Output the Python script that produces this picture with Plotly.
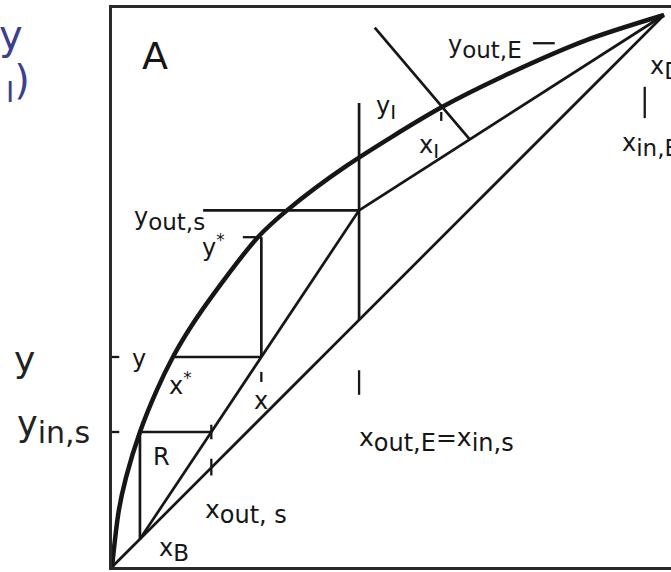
import plotly.graph_objects as go

# Equilibrium curve: solute fraction in raffinate (x) vs extract (y)
eq_x = [0.0, 0.012, 0.025, 0.05, 0.08, 0.109, 0.14, 0.18, 0.261, 0.313, 0.42, 0.587, 0.70, 0.85, 0.9875]
eq_y = [0.0, 0.100, 0.160, 0.2415, 0.316, 0.3757, 0.428, 0.486, 0.590, 0.638, 0.718, 0.821, 0.878, 0.943, 0.9875]

# Key compositions of the construction
x_B = 0.05          # bottoms end of the stripping line
x_D = 0.9875        # top end: x_D = x_in,E
x_F = 0.442         # x_out,E = x_in,s (feed vertical)
y_out_s = 0.638     # both operating lines meet on the feed vertical
y_in_s = 0.2415
y_mid = 0.3757
x_star = [0.05, 0.109]
y_star = 0.590
q_top = 0.830
tie_start = (0.470, 0.965)
x_I = 0.640
y_I = 0.821

INK = "#161616"
FONT = "DejaVu Sans"


def x_on_strip(y):
    return x_B + (y - x_B) * (x_F - x_B) / (y_out_s - x_B)


def y_on_enrich(x):
    return y_out_s + (x - x_F) * (x_D - y_out_s) / (x_D - x_F)


def segs(pairs):
    xs, ys = [], []
    for (x0, y0), (x1, y1) in pairs:
        xs += [x0, x1, None]
        ys += [y0, y1, None]
    return xs, ys


fig = go.Figure()

# equilibrium curve
fig.add_trace(go.Scatter(x=eq_x, y=eq_y, mode="lines",
                         line=dict(color=INK, width=4.5, shape="spline", smoothing=0.8)))

x1 = x_on_strip(y_in_s)
x2 = x_on_strip(y_mid)

lines = [
    ((0, 0), (x_D, x_D)),                       # diagonal y = x
    ((x_B, x_B), (x_F, y_out_s)),               # stripping operating line
    ((x_F, y_out_s), (x_D, x_D)),               # enriching operating line
    ((x_F, x_F), (x_F, q_top)),                 # feed vertical
    ((0.163, y_out_s), (x_F, y_out_s)),         # y_out,s level
    ((x_star[0], y_in_s), (x1, y_in_s)),        # step R
    ((x_star[0], y_in_s), (x_star[0], x_B)),
    ((x_star[1], y_mid), (x2, y_mid)),          # next step
    ((x2, y_mid), (x2, y_star)),
    (tie_start, (x_I, y_on_enrich(x_I))),       # tie line through y_I
]
lx, ly = segs(lines)
fig.add_trace(go.Scatter(x=lx, y=ly, mode="lines", line=dict(color=INK, width=2.7)))

ticks = [
    ((0, y_in_s), (0.013, y_in_s)),
    ((0, y_mid), (0.013, y_mid)),
    ((0.234, y_star), (x2, y_star)),
    ((x2, 0.349), (x2, 0.331)),
    ((x1, y_in_s + 0.013), (x1, y_in_s - 0.013)),
    ((x1, x1 + 0.016), (x1, x1 - 0.014)),
    ((x_F, 0.352), (x_F, 0.308)),
    ((0.953, 0.859), (0.953, 0.803)),
    ((0.589, 0.814), (0.589, 0.798)),
    ((0.753, 0.937), (0.792, 0.937)),
]
tx, ty = segs(ticks)
fig.add_trace(go.Scatter(x=tx, y=ty, mode="lines", line=dict(color=INK, width=2.3)))


def sub(main, s, size):
    return f"{main}<sub><span style='font-size:{size}px'>{s}</span></sub>"


labels = [
    ("A", 0.077, 0.915, "center", 38),
    (sub("y", "out,E", 23), 0.598, 0.930, "left", 24),
    (sub("y", "I", 20), 0.468, 0.822, "left", 24),
    (sub("x", "I", 20), 0.545, 0.752, "left", 24),
    (sub("y", "out,s", 23), 0.036, 0.622, "left", 24),
    ("y<sup>*</sup>", 0.157, 0.574, "left", 24),
    ("y", 0.032, 0.372, "left", 24),
    ("x<sup>*</sup>", 0.098, 0.328, "left", 24),
    ("R", 0.088, 0.197, "center", 24),
    (sub("x", "B", 23), 0.080, 0.030, "left", 24),
    (sub("x", "out, s", 24), 0.163, 0.098, "left", 25),
    ("x", 0.267, 0.297, "center", 24),
    (sub("x", "out,E", 24) + "=" + sub("x", "in,s", 24), 0.438, 0.228, "left", 25),
    (sub("x", "D", 23), 0.959, 0.893, "left", 24),
    (sub("x", "in,E", 23), 0.909, 0.755, "left", 24),
]
for text, x, y, anchor, size in labels:
    fig.add_annotation(x=x, y=y, text=text, showarrow=False, xanchor=anchor, yanchor="middle",
                       font=dict(family=FONT, size=size, color=INK))

# axis labels on the left, outside the frame
fig.add_annotation(xref="paper", yref="paper", x=-0.156, y=0.372, text="y", showarrow=False,
                   xanchor="center", yanchor="middle",
                   font=dict(family=FONT, size=36, color="#222222"))
fig.add_annotation(xref="paper", yref="paper", x=-0.174, y=0.250, text=sub("y", "in,s", 30),
                   showarrow=False, xanchor="left", yanchor="middle",
                   font=dict(family=FONT, size=35, color="#222222"))

# blue heading fragments at the upper left
BLUE = "#3b3f8e"
fig.add_annotation(xref="paper", yref="paper", x=-0.180, y=0.952, text="y", showarrow=False,
                   xanchor="center", yanchor="middle",
                   font=dict(family=FONT, size=40, color=BLUE))
fig.add_annotation(xref="paper", yref="paper", x=-0.144, y=0.866, text="<sub>I</sub>)",
                   showarrow=False, xanchor="right", yanchor="middle",
                   font=dict(family=FONT, size=40, color=BLUE))

fig.update_layout(
    width=671, height=572,
    margin=dict(l=112, r=0, t=8, b=5),
    paper_bgcolor="white", plot_bgcolor="white",
    showlegend=False,
    xaxis=dict(range=[0, 1], showgrid=False, zeroline=False, showticklabels=False, ticks="",
               showline=True, mirror=True, linecolor="#2a2a2a", linewidth=3),
    yaxis=dict(range=[0, 1], showgrid=False, zeroline=False, showticklabels=False, ticks="",
               showline=True, mirror=False, linecolor="#2a2a2a", linewidth=3),
)

fig.write_html("out.html")
